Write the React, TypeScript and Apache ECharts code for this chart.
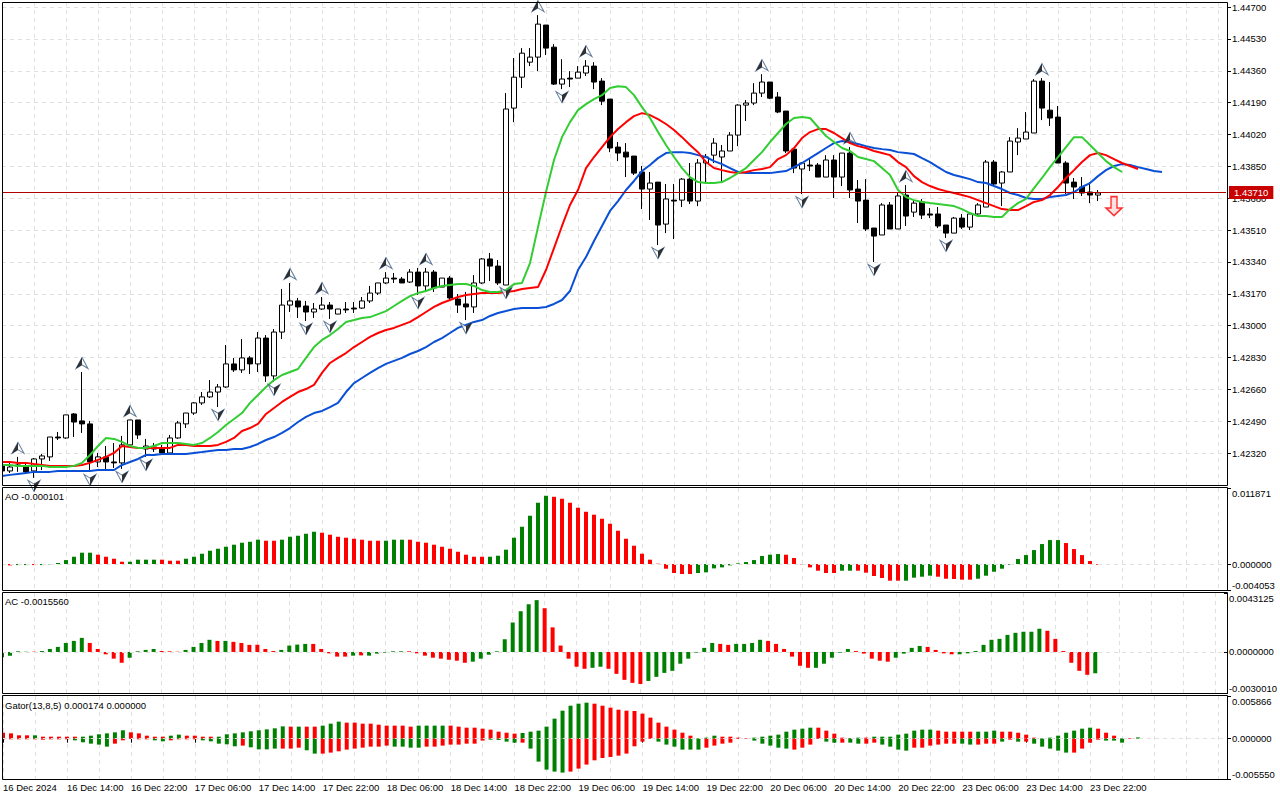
import React, { useEffect, useRef } from "react";
import * as echarts from "echarts";

const FONT = "'Liberation Sans', Arial, sans-serif";
const BAR_COUNT = 154;

const timeLabels = ["16 Dec 2024","16 Dec 14:00","16 Dec 22:00","17 Dec 06:00","17 Dec 14:00","17 Dec 22:00","18 Dec 06:00","18 Dec 14:00","18 Dec 22:00","19 Dec 06:00","19 Dec 14:00","19 Dec 22:00","20 Dec 06:00","20 Dec 14:00","20 Dec 22:00","23 Dec 06:00","23 Dec 14:00","23 Dec 22:00"];

// prices in points (1e-5)
const priceTicks = [144700,144530,144360,144190,144020,143850,143680,143510,143340,143170,143000,142830,142660,142490,142320];
const lastPrice = 143710;
const sellArrow = { index: 139, price: 143638 };

// open, close, low, high
const candles = [
[142257,142225,142214,142273],[142225,142246,142214,142273],[142257,142252,142220,142300],[142246,142220,142209,142273],[142225,142289,142188,142294],[142289,142305,142230,142316],[142300,142406,142278,142406],[142406,142401,142390,142433],
[142401,142524,142396,142524],[142529,142486,142406,142534],[142492,142476,142428,142753],[142476,142273,142220,142492],[142273,142300,142246,142321],[142300,142273,142225,142358],[142273,142268,142241,142374],[142268,142364,142236,142412],
[142364,142497,142353,142497],[142497,142417,142396,142497],[142342,142358,142300,142396],[142353,142342,142326,142374],[142342,142321,142321,142364],[142321,142401,142321,142417],[142401,142481,142396,142492],[142476,142534,142454,142534],
[142534,142588,142524,142593],[142588,142620,142577,142646],[142620,142646,142614,142710],[142646,142673,142566,142689],[142673,142796,142668,142897],[142796,142764,142753,142828],[142764,142828,142748,142929],[142828,142796,142742,142838],
[142796,142934,142753,142966],[142934,142732,142700,142950],[142732,142966,142700,142982],[142966,143110,142929,143196],[143110,143132,143073,143228],[143132,143100,143041,143148],[143105,143073,143025,143132],[143073,143089,143041,143121],
[143089,143110,143084,143153],[143110,143089,143036,143126],[143062,143089,143062,143089],[143089,143084,143068,143126],[143094,143089,143068,143126],[143094,143132,143089,143153],[143132,143174,143121,143212],[143174,143228,143164,143228],
[143228,143254,143222,143286],[143254,143249,143228,143281],[143249,143228,143228,143260],[143233,143286,143228,143302],[143286,143212,143164,143308],[143212,143286,143180,143308],[143286,143201,143180,143297],[143206,143254,143206,143254],
[143254,143148,143137,143265],[143142,143110,143068,143169],[143116,143100,143030,143180],[143100,143228,143068,143270],[143228,143356,143222,143361],[143356,143318,143238,143388],[143318,143228,143217,143350],[143217,144156,143217,144241],
[144161,144326,144086,144428],[144326,144454,144268,144481],[144406,144433,144385,144481],[144433,144609,144358,144657],[144604,144481,144444,144604],[144486,144289,144284,144502],[144289,144316,144262,144422],[144321,144316,144273,144358],
[144321,144353,144321,144385],[144348,144385,144332,144417],[144385,144300,144262,144406],[144305,144198,144177,144321],[144209,143948,143926,144209],[143953,143921,143878,143980],[143926,143900,143793,143974],[143905,143814,143804,143905],
[143820,143729,143622,143852],[143729,143761,143564,143820],[143766,143537,143430,143766],[143542,143676,143494,143756],[143670,143665,143462,143756],[143670,143782,143633,143788],[143782,143665,143649,143868],[143665,143868,143638,143889],
[143868,143900,143761,143916],[143910,143974,143868,144001],[143900,143932,143761,143964],[143932,144017,143932,144033],[144017,144177,143958,144182],[144177,144188,144092,144204],[144188,144241,144177,144294],[144241,144300,144220,144342],
[144300,144214,144209,144300],[144220,144140,144134,144246],[144145,143932,143921,144145],[143942,143841,143814,143942],[143836,143868,143702,143873],[143857,143852,143825,143889],[143857,143793,143793,143868],[143793,143884,143793,143910],
[143884,143793,143681,143910],[143793,143921,143745,143921],[143921,143724,143681,143953],[143729,143665,143548,143777],[143670,143516,143505,143782],[143521,143478,143340,143521],[143484,143644,143484,143654],[143644,143516,143516,143660],
[143516,143692,143516,143713],[143697,143585,143532,143750],[143606,143654,143580,143670],[143660,143590,143569,143676],[143596,143590,143574,143628],[143596,143532,143521,143633],[143537,143494,143468,143537],[143494,143574,143494,143580],
[143574,143526,143516,143596],[143526,143596,143510,143606],[143596,143644,143590,143654],[143633,143873,143633,143884],[143873,143756,143750,143884],[143761,143820,143638,143825],[143820,143985,143820,144006],[143980,144001,143910,144054],
[143996,144033,143996,144140],[144028,144305,144028,144316],[144305,144161,144097,144321],[144150,144108,144065,144300],[144113,143868,143868,144172],[143868,143761,143702,143878],[143766,143740,143676,143788],[143740,143708,143692,143793],
[143713,143697,143654,143766],[143697,143708,143665,143724],
];

const lips = [142257,142257,142252,142252,142252,142252,142246,142246,142246,142252,142268,142310,142358,142401,142396,142380,142358,142348,142348,142358,142374,142374,142374,142369,142364,142374,142401,142433,142470,142502,142534,142588,142630,142673,142710,142737,142753,142769,142828,142886,142924,142950,142982,143020,143030,143041,143046,143062,143078,143105,143132,143158,143174,143185,143201,143212,143217,143222,143222,143212,143190,143180,143180,143190,143222,143228,143334,143526,143713,143884,144006,144086,144150,144182,144209,144230,144268,144278,144273,144230,144166,144108,144033,143964,143900,143841,143793,143766,143761,143761,143766,143788,143814,143841,143884,143926,143980,144028,144076,144108,144113,144108,144060,144012,143980,143948,143932,143900,143889,143878,143841,143804,143724,143686,143670,143660,143654,143649,143644,143638,143622,143601,143585,143585,143580,143580,143622,143654,143676,143734,143788,143846,143900,143953,144006,144006,143964,143921,143878,143846,143820];

const teeth = [142273,142273,142268,142268,142262,142257,142252,142252,142252,142252,142257,142268,142284,142300,142321,142358,142353,142348,142348,142348,142348,142348,142364,142364,142358,142358,142358,142364,142380,142401,142438,142454,142476,142529,142561,142593,142620,142646,142662,142684,142748,142801,142828,142854,142886,142913,142940,142961,142977,142988,143004,143020,143046,143073,143100,143121,143137,143153,143164,143169,143174,143174,143174,143180,143185,143196,143201,143206,143297,143414,143532,143644,143724,143841,143900,143953,144006,144049,144086,144118,144134,144124,144102,144076,144044,144006,143964,143926,143873,143841,143830,143820,143814,143820,143830,143836,143846,143889,143910,143948,144001,144033,144049,144049,144028,144001,143974,143958,143948,143932,143921,143910,143873,143846,143798,143766,143745,143729,143718,143708,143697,143686,143670,143654,143638,143622,143617,143617,143638,143660,143670,143697,143740,143788,143830,143873,143910,143921,143910,143889,143868,143852,143836];

const jaw = [142198,142204,142209,142214,142220,142220,142220,142225,142225,142225,142225,142225,142230,142230,142230,142257,142273,142289,142310,142310,142316,142316,142316,142316,142321,142326,142332,142337,142337,142342,142342,142353,142369,142390,142406,142428,142454,142486,142513,142534,142545,142566,142588,142646,142694,142721,142748,142774,142796,142812,142828,142849,142865,142886,142913,142934,142961,142988,143004,143020,143030,143052,143068,143078,143089,143094,143094,143094,143100,143116,143137,143185,143297,143366,143452,143532,143612,143665,143724,143772,143825,143857,143894,143921,143926,143926,143921,143910,143900,143878,143862,143841,143820,143814,143814,143814,143814,143820,143825,143846,143868,143894,143921,143948,143974,143985,143980,143969,143958,143948,143942,143937,143926,143921,143916,143894,143873,143846,143820,143804,143793,143782,143766,143761,143745,143729,143708,143697,143681,143676,143676,143686,143692,143697,143713,143740,143761,143798,143830,143852,143862,143857,143846,143836,143825,143820];

const fractalUpBars = [2,10,16,36,40,48,53,67,73,95,106,113,130];
const fractalDownBars = [4,11,15,18,27,34,38,41,52,58,63,70,82,100,109,118];

// oscillators in 1e-5 units; g = rising (green), r = falling (red)
const aoValues = [-16,-21,-16,-16,-16,-16,-5,16,62,114,177,177,146,114,83,36,36,68,68,68,68,52,52,83,114,161,208,239,270,302,333,348,380,364,364,380,426,442,473,504,489,458,426,411,395,380,364,364,364,380,380,380,348,333,302,270,239,192,146,114,114,114,130,224,411,582,754,957,1066,1050,1019,957,879,816,770,707,629,520,395,286,161,68,5,-73,-140,-156,-156,-140,-130,-68,-52,-21,10,31,62,125,146,156,146,94,-5,-52,-104,-140,-140,-104,-104,-104,-135,-187,-218,-260,-260,-260,-213,-198,-182,-198,-229,-234,-244,-244,-229,-182,-120,-73,-10,78,140,218,312,374,374,328,234,140,47,-10];
const aoColors = "rrggrggggg"+"ggrrrrgggg"+"rrrggggggg"+"gggrrggggg"+"rrrrrrrrgg"+"grrrrrrrrr"+"rggggggggr"+"rrrrrrrrrr"+"rrrrrrrggg"+"ggggggggrr"+"rrrrrggrrr"+"rrrggggrrr"+"rrgggggggg"+"gggrrrrr";

const acValues = [-39,-27,5,2,2,7,22,37,66,81,103,66,22,-17,-49,-79,-42,5,15,22,7,5,2,15,37,66,89,81,81,74,66,52,52,22,7,15,47,54,59,59,22,-10,-34,-34,-27,-25,-27,-12,-5,5,5,5,-10,-27,-42,-49,-57,-64,-79,-71,-49,-20,5,93,216,298,349,379,320,180,47,-49,-108,-123,-116,-108,-123,-160,-204,-226,-234,-212,-182,-153,-138,-86,-49,-5,30,66,59,52,59,59,66,89,81,59,22,-34,-101,-116,-116,-86,-42,-5,22,7,-12,-49,-64,-71,-42,-12,30,44,37,15,-10,-17,-17,-10,7,52,89,96,125,140,148,148,170,155,96,7,-79,-138,-167,-156];
const acColors = "ggggrggggg"+"grrrrrgggg"+"rrrggggrgr"+"rrrrrggggr"+"rrrrgrgggg"+"grrrrrrrrg"+"ggggggggrr"+"rrrrggrrrr"+"rggggggggg"+"rrggggrrrr"+"rrgggggrrr"+"rrggggrrrr"+"gggggggggg"+"grrrrrrg";

const gatorUpper = [82,73,46,46,46,27,27,27,27,27,27,41,60,73,87,115,87,73,41,27,27,41,55,41,41,27,27,27,60,73,87,101,115,128,142,169,165,165,165,165,179,206,234,220,220,206,206,192,179,179,179,165,179,179,179,179,179,165,151,151,137,124,96,82,69,78,96,110,165,275,385,453,481,495,481,453,426,398,385,380,344,289,220,165,124,82,41,5,14,41,27,27,14,5,14,27,41,55,96,124,137,151,151,110,69,14,9,14,14,27,27,27,55,69,110,124,124,110,96,96,96,96,96,96,110,96,96,82,55,14,5,14,41,82,110,137,151,137,82,41,5,5,17];
const gatorUpperColors = "rrrrgrrrrr"+"ggggggrrrr"+"rggrrrrggg"+"ggggggrgrr"+"gggrrrrrrr"+"rrggggrrrr"+"rrrrrggggg"+"ggggrrrrrr"+"rrrrrrrggg"+"rrrrgggggg"+"ggrrrrggrg"+"gggggggrrr"+"rrgggrrrrr"+"gggggggrrr"+"grg";
const gatorLower = [-9,-9,-9,-9,-9,-14,-9,-9,-9,-23,-50,-69,-82,-110,-69,-23,-5,-9,-9,-23,-37,-23,-9,-9,-9,-23,-37,-69,-78,-105,-96,-119,-147,-147,-137,-137,-137,-124,-160,-206,-206,-192,-174,-151,-137,-124,-110,-110,-96,-110,-110,-124,-124,-110,-110,-96,-82,-82,-69,-69,-27,-14,-18,-41,-55,-55,-137,-316,-426,-453,-467,-453,-412,-357,-298,-266,-252,-234,-206,-105,-41,-5,-41,-82,-110,-151,-151,-151,-124,-96,-69,-55,-5,-5,-27,-69,-96,-124,-137,-151,-124,-82,-5,-41,-55,-55,-55,-69,-69,-55,-82,-110,-151,-165,-124,-124,-96,-82,-69,-69,-69,-82,-82,-69,-69,-41,-14,-41,-41,-69,-110,-137,-165,-192,-192,-137,-55,-14,-27,-27,-55,-5,0];
const gatorLowerColors = "rrrrrrrrrg"+"ggggrrrrrg"+"grrrrggggg"+"rggggrrrgg"+"rrrrrrrrrg"+"gggrrrrrrr"+"rggggrgggg"+"grrrrrrrrr"+"rrggggggrr"+"rrrrgggggr"+"rrrggrggrr"+"ggggrrrrrr"+"ggrrrgrgrg"+"ggggrrrrgg"+"grg";

const aoRange = { min: -0.004053, max: 0.011871 };
const acRange = { min: -0.003001, max: 0.0043125 };
const gatorRange = { min: -0.00555, max: 0.005866 };

const legendTexts = ["AO -0.000101", "AC -0.0015560", "Gator(13,8,5) 0.000174 0.000000"];

const px = (v: number) => v / 1e5;
const GREEN = "#008000";
const RED = "#ff0000";
const GRIDC = "#e0e0e0";

const categories: string[] = [];
for (let i = 0; i < BAR_COUNT; i++) categories.push(i % 8 === 0 ? timeLabels[i / 8] ?? "" : "");

const oscData = (vals: number[], cols: string) =>
  vals.map((v, i) => ({ value: px(v), itemStyle: { color: cols[i] === "g" ? GREEN : RED } }));

const zeroLine = {
  silent: true,
  symbol: "none",
  precision: 6,
  z: 5,
  label: { show: false },
  lineStyle: { type: [4, 4], color: GRIDC, width: 1 },
  data: [{ yAxis: 0 }],
};

function xAxis(gridIndex: number, last: boolean) {
  return {
    type: "category",
    gridIndex,
    data: categories,
    boundaryGap: false,
    axisLine: { show: false },
    axisTick: { show: last, length: 4, interval: (i: number) => i % 8 === 0 && i <= 136, lineStyle: { color: "#000" } },
    axisLabel: {
      show: last,
      interval: (i: number) => i % 8 === 0 && i <= 136,
      align: "left",
      margin: 3,
      fontSize: 9.5,
      fontFamily: FONT,
      color: "#000",
    },
    splitLine: { show: true, interval: (i: number) => i % 4 === 0, lineStyle: { type: [4, 4], color: GRIDC, width: 1 } },
  };
}

function yAxis(gridIndex: number, min: number, max: number, ticks: number[], digits: number, sub: boolean) {
  return {
    type: "value",
    gridIndex,
    position: "right",
    offset: 1,
    min,
    max,
    scale: true,
    splitLine: { show: false },
    axisLine: { show: false },
    axisTick: { show: true, length: 4, customValues: ticks, lineStyle: { color: "#000" } },
    axisLabel: {
      customValues: ticks,
      margin: 5,
      fontSize: 9.5,
      fontFamily: FONT,
      color: "#000",
      formatter: (v: number) => v.toFixed(digits),
      ...(sub ? { verticalAlignMinLabel: "bottom", verticalAlignMaxLabel: "top" } : {}),
    },
  };
}

const UP_FULL = "path://M7,0 L14,12 L7,8 L0,12 Z";
const UP_HALF = "path://M7,0 L7,8 L0,12 Z";
const DOWN_FULL = "path://M0,0 L7,4 L14,0 L7,12 Z";
const DOWN_HALF = "path://M7,4 L14,0 L7,12 Z";
const ARROW = "path://M5,0 L11,0 L11,12 L16,12 L8,20 L0,12 L5,12 Z";

function fractal(name: string, bars: number[], field: number, symbol: string, size: number[], offset: number[], style: any) {
  return {
    name,
    type: "scatter",
    xAxisIndex: 0,
    yAxisIndex: 0,
    z: 8,
    symbol,
    symbolSize: size,
    symbolOffset: offset,
    itemStyle: style,
    silent: true,
    data: bars.map((b) => [b, px(candles[b][field])]),
  };
}

function frame(y0: number, y1: number) {
  return {
    type: "rect",
    z: 50,
    silent: true,
    shape: { x: 2.5, y: y0, width: 1225, height: y1 - y0 },
    style: { fill: "none", stroke: "#000", lineWidth: 1 },
  };
}

function legend(text: string, y: number) {
  return {
    type: "text",
    z: 50,
    silent: true,
    x: 5,
    y,
    style: { text, fontSize: 9.5, fontFamily: FONT, fill: "#000", verticalAlign: "middle" },
  };
}

function line(name: string, data: number[], color: string, extra: any = {}) {
  return {
    name,
    type: "line",
    xAxisIndex: 0,
    yAxisIndex: 0,
    z: 6,
    symbol: "none",
    silent: true,
    lineStyle: { color, width: 2 },
    data: data.map(px),
    ...extra,
  };
}

function buildOption(): any {
  return {
    animation: false,
    backgroundColor: "#ffffff",
    textStyle: { fontFamily: FONT },
    grid: [
      { left: 2, width: 1224, top: 2, height: 483 },
      { left: 2, width: 1224, top: 488, height: 102 },
      { left: 2, width: 1224, top: 593, height: 100 },
      { left: 2, width: 1224, top: 696, height: 83 },
    ],
    xAxis: [xAxis(0, false), xAxis(1, false), xAxis(2, false), xAxis(3, true)],
    yAxis: [
      yAxis(0, 1.4215, 1.44727, priceTicks.map(px), 5, false),
      yAxis(1, aoRange.min, aoRange.max, [aoRange.min, 0, aoRange.max], 6, true),
      yAxis(2, acRange.min, acRange.max, [acRange.min, 0, acRange.max], 7, true),
      yAxis(3, gatorRange.min, gatorRange.max, [gatorRange.min, 0, gatorRange.max], 6, true),
    ],
    graphic: [
      { type: "rect", z: 40, silent: true, shape: { x: 0, y: 0, width: 2, height: 800 }, style: { fill: "#ffffff" } },
      frame(2.5, 485.5),
      frame(487.5, 590.5),
      frame(592.5, 693.5),
      frame(695.5, 779.5),
      legend(legendTexts[0], 496.5),
      legend(legendTexts[1], 601.5),
      legend(legendTexts[2], 705.5),
    ],
    series: [
      {
        name: "Price",
        type: "candlestick",
        xAxisIndex: 0,
        yAxisIndex: 0,
        z: 3,
        silent: true,
        barWidth: 5,
        itemStyle: {
          color: "#ffffff",
          color0: "#000000",
          borderColor: "#000000",
          borderColor0: "#000000",
          borderColorDoji: "#000000",
          borderWidth: 1,
        },
        data: candles.map((c) => c.map(px)),
        markLine: {
          silent: true,
          symbol: "none",
          precision: 6,
          z: 1,
          label: { show: false },
          lineStyle: { type: [4, 4], color: GRIDC, width: 1 },
          data: priceTicks.map((v) => ({ yAxis: px(v) })),
        },
      },
      line("Jaw", jaw, "#0a50d6"),
      line("Teeth", teeth, "#ff0000"),
      line("Lips", lips, "#32cd32", {
        markLine: {
          silent: true,
          symbol: "none",
          precision: 6,
          z: 7,
          lineStyle: { type: "solid", color: "#b00000", width: 1 },
          label: {
            show: true,
            position: "end",
            distance: 3,
            formatter: () => px(lastPrice).toFixed(5),
            color: "#ffffff",
            backgroundColor: "#c80000",
            padding: [2, 5, 1, 5],
            fontSize: 9.5,
            fontFamily: FONT,
          },
          data: [{ yAxis: px(lastPrice) }],
        },
      }),
      fractal("Fractal up", fractalUpBars, 3, UP_FULL, [12, 11], [0, -9], { color: "#ffffff", borderColor: "#3c5a80", borderWidth: 1 }),
      fractal("Fractal up fill", fractalUpBars, 3, UP_HALF, [6, 11], [-3, -9], { color: "#000000" }),
      fractal("Fractal down", fractalDownBars, 2, DOWN_FULL, [12, 11], [0, 8], { color: "#ffffff", borderColor: "#3c5a80", borderWidth: 1 }),
      fractal("Fractal down fill", fractalDownBars, 2, DOWN_HALF, [6, 11], [3, 8], { color: "#000000" }),
      {
        name: "Sell",
        type: "scatter",
        xAxisIndex: 0,
        yAxisIndex: 0,
        z: 8,
        silent: true,
        symbol: ARROW,
        symbolSize: [16, 19],
        itemStyle: { color: "#ffd9d9", borderColor: "#ff0000", borderWidth: 1.5 },
        data: [[sellArrow.index, px(sellArrow.price)]],
      },
      {
        name: "AO",
        type: "bar",
        xAxisIndex: 1,
        yAxisIndex: 1,
        barWidth: 4,
        silent: true,
        data: oscData(aoValues, aoColors),
        markLine: zeroLine,
      },
      {
        name: "AC",
        type: "bar",
        xAxisIndex: 2,
        yAxisIndex: 2,
        barWidth: 4,
        silent: true,
        data: oscData(acValues, acColors),
        markLine: zeroLine,
      },
      {
        name: "Gator up",
        type: "bar",
        stack: "gator",
        xAxisIndex: 3,
        yAxisIndex: 3,
        barWidth: 4,
        silent: true,
        data: oscData(gatorUpper, gatorUpperColors),
        markLine: zeroLine,
      },
      {
        name: "Gator down",
        type: "bar",
        stack: "gator",
        xAxisIndex: 3,
        yAxisIndex: 3,
        barWidth: 4,
        silent: true,
        data: oscData(gatorLower, gatorLowerColors),
      },
    ],
  };
}

export default function App() {
  const ref = useRef<HTMLDivElement>(null);
  useEffect(() => {
    document.body.style.margin = "0";
    document.body.style.background = "#fff";
    const chart = echarts.init(ref.current!, undefined, { renderer: "svg" });
    chart.setOption(buildOption());
    return () => chart.dispose();
  }, []);
  return <div ref={ref} style={{ width: 1280, height: 800 }} />;
}
